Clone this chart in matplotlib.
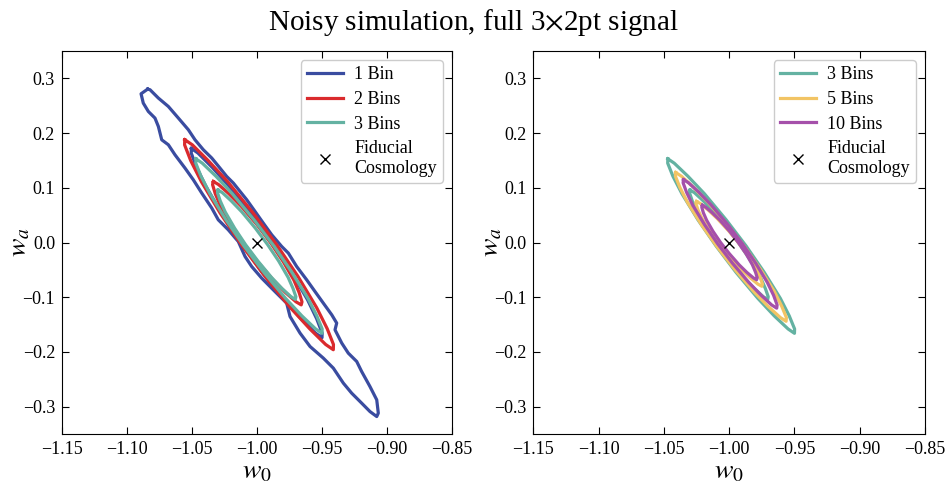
import matplotlib
matplotlib.use("Agg")
import matplotlib.pyplot as plt

plt.rcParams['font.family'] = ['Liberation Serif', 'DejaVu Serif']
plt.rcParams['mathtext.fontset'] = 'stix'

# contour vertices (w0, wa), 95% and 68% levels
bin1_outer_w0 = [-1.0841, -1.0823, -1.0759, -1.0682, -1.0605, -1.0528, -1.0477, -1.0413, -1.0348, -1.0285,
                 -1.0233, -1.0182, -1.0079, -1.0015, -0.9952, -0.9887, -0.9810, -0.9759, -0.9695, -0.9618,
                 -0.9554, -0.9490, -0.9425, -0.9387, -0.9400, -0.9348, -0.9298, -0.9233, -0.9195, -0.9131,
                 -0.9079, -0.9067, -0.9079, -0.9131, -0.9195, -0.9272, -0.9336, -0.9413, -0.9490, -0.9592,
                 -0.9669, -0.9746, -0.9772, -0.9862, -0.9964, -1.0041, -1.0092, -1.0144, -1.0221, -1.0298,
                 -1.0348, -1.0425, -1.0490, -1.0554, -1.0631, -1.0682, -1.0733, -1.0759, -1.0785, -1.0836,
                 -1.0875, -1.0892]
bin1_outer_wa = [0.2804, 0.2792, 0.2640, 0.2486, 0.2274, 0.2060, 0.1877, 0.1695, 0.1543, 0.1360,
                 0.1207, 0.1086, 0.0781, 0.0567, 0.0355, 0.0141, -0.0073, -0.0194, -0.0439, -0.0682,
                 -0.0896, -0.1108, -0.1322, -0.1473, -0.1596, -0.1839, -0.2022, -0.2175, -0.2358, -0.2633,
                 -0.2876, -0.3119, -0.3181, -0.3090, -0.2936, -0.2753, -0.2570, -0.2296, -0.2113, -0.1901,
                 -0.1656, -0.1353, -0.1108, -0.0896, -0.0651, -0.0439, -0.0256, 0.0018, 0.0232, 0.0415,
                 0.0629, 0.0903, 0.1146, 0.1360, 0.1603, 0.1786, 0.1877, 0.2121, 0.2274, 0.2395,
                 0.2548, 0.2718]

bin1_inner_w0 = [-1.0505, -1.0454, -1.0345, -1.0214, -1.0040, -0.9883, -0.9739, -0.9611, -0.9541, -0.9499,
                 -0.9500, -0.9551, -0.9661, -0.9791, -0.9965, -1.0123, -1.0266, -1.0394, -1.0465, -1.0506]
bin1_inner_wa = [0.172, 0.1634, 0.1374, 0.1028, 0.0509, -0.001, -0.0529, -0.1048, -0.1394, -0.1654,
                 -0.174, -0.1654, -0.1394, -0.1048, -0.0529, -0.001, 0.0509, 0.1028, 0.1374, 0.1634]

bin2_outer_w0 = [-1.0556, -1.0497, -1.0375, -1.0226, -1.0029, -0.9849, -0.9686, -0.9541, -0.9460, -0.9412,
                 -0.9413, -0.9472, -0.9595, -0.9743, -0.9940, -1.0120, -1.0283, -1.0428, -1.0510, -1.0557]
bin2_outer_wa = [0.188, 0.1784, 0.1496, 0.1112, 0.0536, -0.004, -0.0616, -0.1192, -0.1576, -0.1864,
                 -0.196, -0.1864, -0.1576, -0.1192, -0.0616, -0.004, 0.0536, 0.1112, 0.1496, 0.1784]

bin2_inner_w0 = [-1.0336, -1.0296, -1.0216, -1.0122, -1.0000, -0.9893, -0.9798, -0.9716, -0.9676, -0.9654,
                 -0.9660, -0.9700, -0.9781, -0.9874, -0.9996, -1.0103, -1.0198, -1.0280, -1.0321, -1.0342]
bin2_inner_wa = [0.1115, 0.1059, 0.0890, 0.0664, 0.0326, -0.0013, -0.0351, -0.0689, -0.0915, -0.1084,
                 -0.114, -0.1084, -0.0915, -0.0689, -0.0351, -0.0013, 0.0326, 0.0664, 0.0890, 0.1059]

bin3_outer_w0 = [-1.0470, -1.0421, -1.0316, -1.0190, -1.0023, -0.9870, -0.9732, -0.9608, -0.9540, -0.9499,
                 -0.9500, -0.9549, -0.9655, -0.9780, -0.9948, -1.0100, -1.0239, -1.0362, -1.0431, -1.0471]
bin3_outer_wa = [0.153, 0.1450, 0.1211, 0.0892, 0.0414, -0.0065, -0.0544, -0.1022, -0.1341, -0.1580,
                 -0.166, -0.1580, -0.1341, -0.1022, -0.0544, -0.0065, 0.0414, 0.0892, 0.1211, 0.1450]

bin3_inner_w0 = [-1.0300, -1.0266, -1.0198, -1.0117, -1.0012, -0.9918, -0.9833, -0.9760, -0.9723, -0.9701,
                 -0.9705, -0.9739, -0.9808, -0.9888, -0.9993, -1.0088, -1.0172, -1.0245, -1.0283, -1.0304]
bin3_inner_wa = [0.096, 0.091, 0.076, 0.056, 0.026, -0.004, -0.034, -0.064, -0.084, -0.099,
                 -0.104, -0.099, -0.084, -0.064, -0.034, -0.004, 0.026, 0.056, 0.076, 0.091]

bin5_outer_w0 = [-1.0410, -1.0366, -1.0273, -1.0162, -1.0015, -0.9882, -0.9761, -0.9654, -0.9597, -0.9562,
                 -0.9564, -0.9608, -0.9702, -0.9812, -0.9959, -1.0092, -1.0213, -1.0320, -1.0378, -1.0412]
bin5_outer_wa = [0.128, 0.1212, 0.1008, 0.0736, 0.0328, -0.008, -0.0488, -0.0896, -0.1168, -0.1372,
                 -0.144, -0.1372, -0.1168, -0.0896, -0.0488, -0.008, 0.0328, 0.0736, 0.1008, 0.1212]

bin5_inner_w0 = [-1.0250, -1.0220, -1.0161, -1.0092, -1.0002, -0.9922, -0.9852, -0.9792, -0.9761, -0.9745,
                 -0.9750, -0.9780, -0.9839, -0.9909, -0.9998, -1.0078, -1.0148, -1.0209, -1.0239, -1.0255]
bin5_inner_wa = [0.075, 0.0711, 0.0595, 0.044, 0.0208, -0.0025, -0.0258, -0.049, -0.0645, -0.0761,
                 -0.080, -0.0761, -0.0645, -0.049, -0.0258, -0.0025, 0.0208, 0.044, 0.0595, 0.0711]

bin10_outer_w0 = [-1.0350, -1.0311, -1.0231, -1.0136, -1.0011, -0.9898, -0.9797, -0.9708, -0.9660, -0.9633,
                  -0.9636, -0.9675, -0.9755, -0.9850, -0.9975, -1.0088, -1.0189, -1.0279, -1.0326, -1.0353]
bin10_outer_wa = [0.115, 0.1091, 0.0915, 0.068, 0.0328, -0.0025, -0.0378, -0.073, -0.0965, -0.1141,
                  -0.120, -0.1141, -0.0965, -0.073, -0.0378, -0.0025, 0.0328, 0.068, 0.0915, 0.1091]

bin10_inner_w0 = [-1.0205, -1.0180, -1.0130, -1.0071, -0.9996, -0.9930, -0.9871, -0.9822, -0.9798, -0.9785,
                  -0.9790, -0.9815, -0.9866, -0.9924, -0.9999, -1.0066, -1.0124, -1.0173, -1.0198, -1.0210]
bin10_inner_wa = [0.068, 0.0646, 0.0544, 0.0408, 0.0204, 0.0, -0.0204, -0.0408, -0.0544, -0.0646,
                  -0.068, -0.0646, -0.0544, -0.0408, -0.0204, 0.0, 0.0204, 0.0408, 0.0544, 0.0646]

fiducial_w0 = -1.0
fiducial_wa = 0.0

x_ticks = [-1.15, -1.10, -1.05, -1.00, -0.95, -0.90, -0.85]
y_ticks = [-0.3, -0.2, -0.1, 0.0, 0.1, 0.2, 0.3]

blue = '#3a4ca0'
red = '#da2a2d'
teal = '#64b2a2'
yellow = '#f2c464'
purple = '#a550aa'

left_series = [
    ('1 Bin', blue, (bin1_outer_w0, bin1_outer_wa), (bin1_inner_w0, bin1_inner_wa)),
    ('2 Bins', red, (bin2_outer_w0, bin2_outer_wa), (bin2_inner_w0, bin2_inner_wa)),
    ('3 Bins', teal, (bin3_outer_w0, bin3_outer_wa), (bin3_inner_w0, bin3_inner_wa)),
]
right_series = [
    ('3 Bins', teal, (bin3_outer_w0, bin3_outer_wa), (bin3_inner_w0, bin3_inner_wa)),
    ('5 Bins', yellow, (bin5_outer_w0, bin5_outer_wa), (bin5_inner_w0, bin5_inner_wa)),
    ('10 Bins', purple, (bin10_outer_w0, bin10_outer_wa), (bin10_inner_w0, bin10_inner_wa)),
]


def closed(xs, ys):
    return list(xs) + [xs[0]], list(ys) + [ys[0]]


def minus(s):
    return s.replace('-', '\u2212')


fig = plt.figure(figsize=(9.47, 4.9), dpi=100)
ax1 = fig.add_axes([0.0655, 0.1143, 0.4118, 0.7816])
ax2 = fig.add_axes([0.5632, 0.1143, 0.4136, 0.7816])

for ax, series in [(ax1, left_series), (ax2, right_series)]:
    for label, color, outer, inner in series:
        xo, yo = closed(*outer)
        xi, yi = closed(*inner)
        ax.plot(xo, yo, color=color, lw=2.3, label=label, solid_joinstyle='round')
        ax.plot(xi, yi, color=color, lw=2.3, solid_joinstyle='round')
    ax.plot(fiducial_w0, fiducial_wa, 'x', color='black', ms=7, mew=1.0,
            ls='none', label='Fiducial\nCosmology')
    ax.set_xlim(-1.15, -0.85)
    ax.set_ylim(-0.35, 0.35)
    ax.set_xticks(x_ticks)
    ax.set_yticks(y_ticks)
    ax.set_xticklabels([minus('%.2f' % v) for v in x_ticks])
    ax.set_yticklabels([minus('%.1f' % v) for v in y_ticks])
    ax.tick_params(direction='in', top=True, right=True, length=5, labelsize=13, pad=5)
    ax.set_xlabel(r'$w_0$', fontsize=20, labelpad=1)
    ax.set_ylabel(r'$w_a$', fontsize=20, labelpad=0)
    ax.yaxis.set_label_coords(-0.075, 0.5)
    leg = ax.legend(loc='upper right', fontsize=13, handlelength=2.0, borderpad=0.35,
                    labelspacing=0.42, handletextpad=0.6, framealpha=1.0, fancybox=True)
    leg.get_frame().set_edgecolor('#cccccc')

fig.suptitle('Noisy simulation, full 3$\\times$2pt signal', fontsize=21, y=0.985)

fig.savefig('out.png', dpi=100)
